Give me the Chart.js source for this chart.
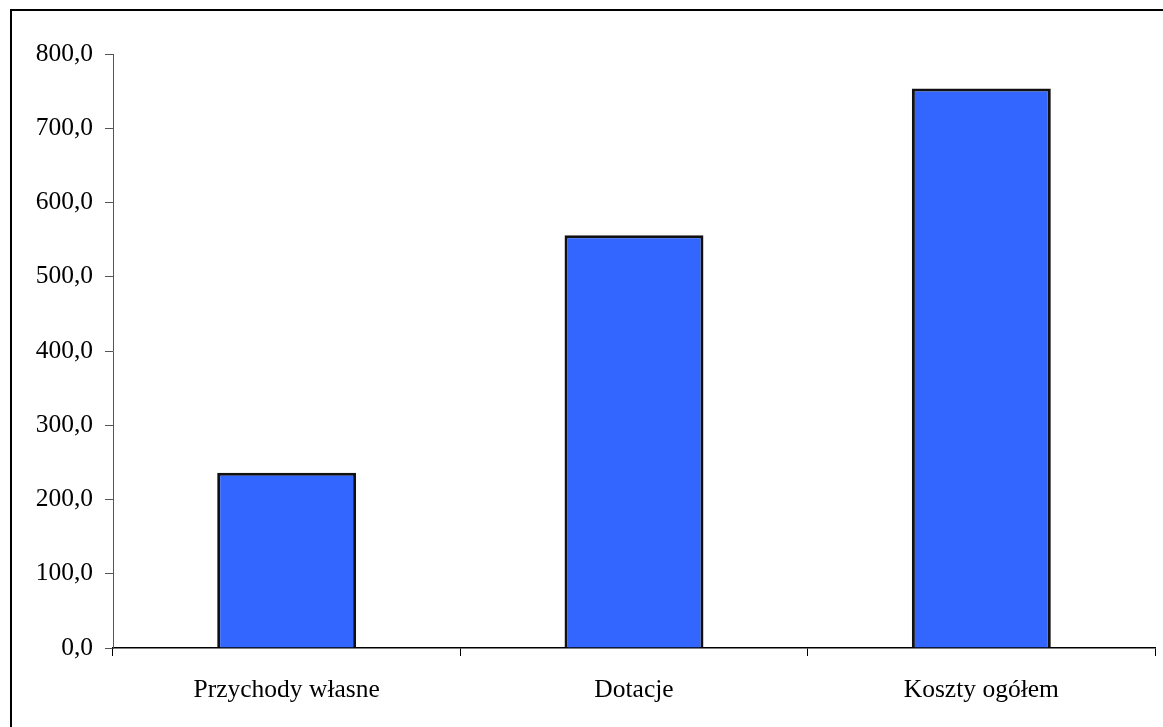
<!DOCTYPE html>
<html>
<head>
<meta charset="utf-8">
<script src="https://cdn.jsdelivr.net/npm/chart.js@4"></script>
<style>
  html, body { margin: 0; padding: 0; background: #fff; overflow: hidden; }
  #wrap { position: relative; width: 1163px; height: 727px; }
  #frame { position: absolute; left: 10px; top: 9px; width: 1200px; height: 800px; border: 2px solid #000; }
  canvas { position: absolute; left: 0; top: 0; }
</style>
</head>
<body>
<div id="wrap">
  <div id="frame"></div>
  <canvas id="chart" width="1163" height="727"></canvas>
</div>
<script>
// data
const categories = ["Przychody własne", "Dotacje", "Koszty ogółem"];
const values = [236.0, 556.0, 753.5];
const yTickValues = [0, 100, 200, 300, 400, 500, 600, 700, 800];

function plNumber(v) {
  return v.toFixed(1).replace(".", ",");
}

Chart.defaults.font.family = "'Liberation Serif', 'Times New Roman', serif";
Chart.defaults.font.size = 25.5;
Chart.defaults.color = "#000";

new Chart(document.getElementById("chart"), {
  type: "bar",
  data: {
    labels: categories,
    datasets: [{
      data: values,
      backgroundColor: "#3366FF",
      borderColor: "#111",
      borderWidth: 3,
      barPercentage: 0.4,
      categoryPercentage: 1
    }]
  },
  options: {
    responsive: false,
    animation: false,
    layout: { padding: { top: 54, right: 8, bottom: 0, left: 0 } },
    plugins: {
      legend: { display: false },
      tooltip: { enabled: false }
    },
    scales: {
      x: {
        grid: { drawOnChartArea: false, drawTicks: true, tickLength: 8, color: "#000", offset: true },
        border: { color: "#000", width: 1.5 },
        ticks: { padding: 19, maxRotation: 0 },
        afterFit: s => { s.height = 79; }
      },
      y: {
        min: 0,
        max: 800,
        grid: { drawOnChartArea: false, drawTicks: true, tickLength: 8, color: "#555" },
        border: { color: "#555", width: 1 },
        afterBuildTicks: s => { s.ticks = yTickValues.map(v => ({ value: v })); },
        ticks: { padding: 12, callback: v => plNumber(v) },
        afterFit: s => { s.width = 113; }
      }
    }
  }
});
</script>
</body>
</html>
